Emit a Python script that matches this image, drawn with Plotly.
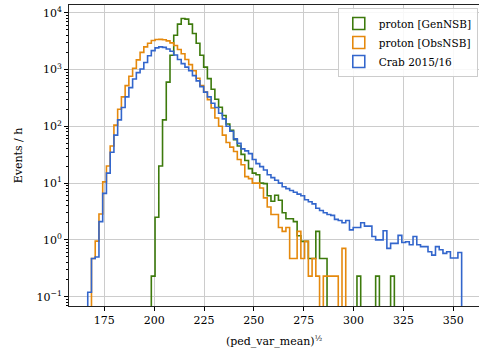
import numpy as np
import plotly.graph_objects as go

# ---- data ----
BIN_LO = 166.7
BIN_HI = 354.2
N_BINS = 100

series_names = ["proton [GenNSB]", "proton [ObsNSB]", "Crab 2015/16"]
series_colors = ["#3d7a0c", "#e5890d", "#3366cc"]

proton_gen = [0]*17 + [
    0.23, 2.5, 20, 130, 600, 1780, 4000, 6300, 7900, 7700,
    6300, 4300, 2900, 1780, 1100, 690, 450, 300, 217, 155,
    110, 85, 58, 45, 32, 25, 18, 15, 14, 10,
    9.8, 6.0, 4.8, 6.1, 5.0, 3.0, 2.35, 2.35, 2.1, 1.18,
    0.94, 0.94, 0.47, 0.47, 1.41, 0.47, 0.47] + [0]*8 + [0.23] + [0]*4 + [0.23] + [0]*3 + [0.23] + [0]*18

proton_obs = [
    0, 0.47, 0.95, 2.85, 10.5, 20, 45, 105, 200, 330,
    520, 760, 1050, 1480, 2000, 2500, 2900, 3250, 3380, 3400,
    3350, 3200, 2950, 2650, 2250, 1900, 1500, 1220, 950, 700,
    520, 400, 295, 210, 140, 100, 70, 52, 43, 36,
    26, 21, 13, 12, 10, 10, 8.2, 5.5, 3.8, 2.8,
    2.8, 1.65, 1.41, 1.65, 0.47, 0.47, 1.41, 0.47, 0.94, 0.23,
    0.47, 0.23, 0, 0.23, 0.23, 0.23, 0.23, 0, 0.71] + [0]*31

crab = [
    0.12, 0.47, 0.5, 2.1, 6.6, 15, 35, 70, 130, 215,
    330, 480, 680, 880, 1020, 1330, 1750, 2150, 2400, 2500,
    2450, 2300, 2100, 1800, 1500, 1270, 1100, 950, 780, 630,
    500, 400, 330, 255, 215, 170, 135, 100, 82, 60,
    50, 40, 37, 33, 26, 22, 19.5, 17, 14, 12.5,
    11.2, 10, 8.6, 8.0, 7.4, 6.9, 6.4, 6.0, 5.1, 4.7,
    4.3, 3.6, 3.3, 3.0, 2.8, 2.7, 2.3, 2.2, 2.0, 2.2,
    1.5, 1.65, 1.65, 2.0, 1.75, 1.75, 1.15, 1.0, 1.0, 1.45,
    0.71, 0.87, 0.87, 1.2, 0.9, 0.93, 0.82, 1.15, 0.82, 0.76,
    0.76, 0.62, 0.54, 0.76, 0.67, 0.58, 0.62, 0.48, 0.48, 0.60]

x_tick_vals = [175, 200, 225, 250, 275, 300, 325, 350]
y_tick_vals = [0.1, 1, 10, 100, 1000, 10000]
y_tick_text = ["10<sup>\u22121</sup>", "10<sup>0</sup>", "10<sup>1</sup>",
               "10<sup>2</sup>", "10<sup>3</sup>", "10<sup>4</sup>"]

FONT = "DejaVu Serif"
FLOOR = 1e-4  # empty bins drawn below the visible range

edges = np.linspace(BIN_LO, BIN_HI, N_BINS + 1)


def step_outline(counts):
    c = [v if v > 0 else FLOOR for v in counts]
    xs = [edges[0]] + list(edges[:-1]) + [edges[-1], edges[-1]]
    ys = [FLOOR] + c + [c[-1], FLOOR]
    return xs, ys


fig = go.Figure()
for name, color, counts in zip(series_names, series_colors, [proton_gen, proton_obs, crab]):
    xs, ys = step_outline(counts)
    fig.add_trace(go.Scatter(x=xs, y=ys, mode="lines", line=dict(color=color, width=1.6, shape="hv"),
                             name=name, legendgroup=name, showlegend=False, hoverinfo="skip"))

for name, color in zip(series_names, series_colors):
    fig.add_trace(go.Bar(x=[None], y=[None], name=name, legendgroup=name,
                         marker=dict(color="rgba(0,0,0,0)", line=dict(color=color, width=1.6))))

minor_vals = [m * 10.0 ** k for k in range(-2, 5) for m in range(2, 10)]

fig.update_layout(
    width=479, height=354,
    margin=dict(l=69, r=0, t=5, b=48),
    paper_bgcolor="white", plot_bgcolor="white",
    font=dict(family=FONT, size=11, color="black"),
    showlegend=True,
    legend=dict(x=0.997, y=0.99, xanchor="right", yanchor="top",
                bgcolor="rgba(255,255,255,0.85)", bordercolor="#cccccc", borderwidth=1,
                font=dict(family=FONT, size=10.5, color="black"),
                tracegroupgap=0, itemwidth=30),
    xaxis=dict(range=[157.3, 362.9], tickvals=x_tick_vals,
               showgrid=True, gridcolor="#cccccc", gridwidth=1.2,
               ticks="outside", ticklen=4, tickwidth=1, tickcolor="black",
               showline=True, linecolor="#222222", linewidth=1, mirror=True,
               zeroline=False,
               tickfont=dict(family=FONT, size=11, color="black"),
               title=dict(text="(ped_var_mean)<sup>\u00bd</sup>",
                          font=dict(family=FONT, size=11, color="black"), standoff=11)),
    yaxis=dict(type="log", range=[-1.164, 4.136], tickvals=y_tick_vals, ticktext=y_tick_text,
               showgrid=True, gridcolor="#cccccc", gridwidth=1.2,
               ticks="outside", ticklen=4, tickwidth=1, tickcolor="black",
               minor=dict(tickvals=minor_vals, ticks="outside", ticklen=2, tickwidth=0.8,
                          tickcolor="black", showgrid=False),
               showline=True, linecolor="#222222", linewidth=1, mirror=False,
               zeroline=False,
               tickfont=dict(family=FONT, size=11, color="black"),
               title=dict(text="Events / h", font=dict(family=FONT, size=11, color="black"),
                          standoff=11)),
)

fig.write_html("out.html")
